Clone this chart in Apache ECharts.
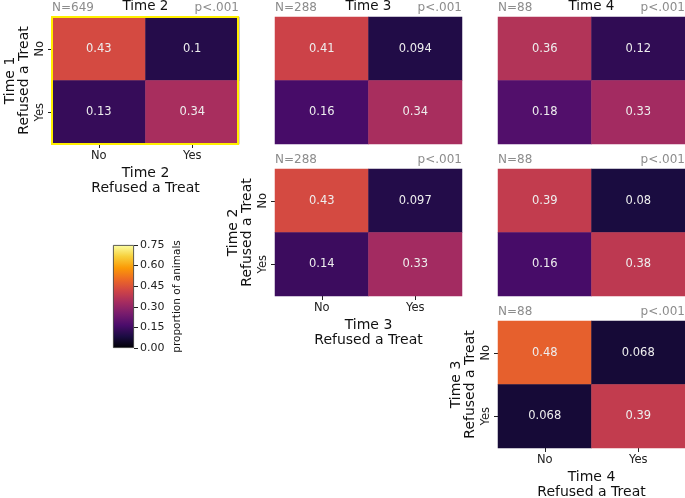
<!DOCTYPE html>
<html>
<head>
<meta charset="utf-8">
<title>Refused a Treat</title>
<script src="https://cdn.jsdelivr.net/npm/echarts@6/dist/echarts.min.js"></script>
<style>
  html, body { margin: 0; padding: 0; background: #fff; }
  #chart { width: 685px; height: 498px; }
</style>
</head>
<body>
<div id="chart"></div>
<script>
// answers on both axes
const answers = ['No', 'Yes']

// proportions, rows = earlier time, columns = later time
const t1t2 = [[0.43, 0.1], [0.13, 0.34]]
const t1t3 = [[0.41, 0.094], [0.16, 0.34]]
const t1t4 = [[0.36, 0.12], [0.18, 0.33]]
const t2t3 = [[0.43, 0.097], [0.14, 0.33]]
const t2t4 = [[0.39, 0.08], [0.16, 0.38]]
const t3t4 = [[0.48, 0.068], [0.068, 0.39]]

const sampleSizes = [649, 288, 88, 288, 88, 88]
const pValues = ['p<.001', 'p<.001', 'p<.001', 'p<.001', 'p<.001', 'p<.001']
const colTitles = ['Time 2', 'Time 3', 'Time 4']
const colorTicks = [0, 0.15, 0.3, 0.45, 0.6, 0.75]

// inferno colormap
const inferno = ['#000004', '#1b0c42', '#4b0c6b', '#781c6d', '#a52c60', '#cf4446', '#ed6925', '#fb9a06', '#f7d03c', '#fcffa4']

const font = 'DejaVu Sans'
const W = 187
const H = 127

const panels = [
  { data: t1t2, left: 52, top: 17, rowName: 'Time 1', colName: 'Time 2', axes: true, title: colTitles[0] },
  { data: t1t3, left: 275, top: 17, title: colTitles[1] },
  { data: t1t4, left: 498, top: 17, title: colTitles[2] },
  { data: t2t3, left: 275, top: 169, rowName: 'Time 2', colName: 'Time 3', axes: true },
  { data: t2t4, left: 498, top: 169 },
  { data: t3t4, left: 498, top: 321, rowName: 'Time 3', colName: 'Time 4', axes: true }
]

const grids = []
const xAxes = []
const yAxes = []
const series = []
const titles = []

panels.forEach((p, i) => {
  grids.push({ left: p.left, top: p.top, width: W, height: H, outerBoundsMode: 'none' })
  xAxes.push({
    type: 'category',
    gridIndex: i,
    data: answers,
    position: 'bottom',
    axisLine: { show: false },
    axisTick: { show: !!p.axes, alignWithLabel: true, length: 4, lineStyle: { color: '#222' } },
    axisLabel: { show: !!p.axes, color: '#222', fontSize: 11.5, fontFamily: font, margin: 6 },
    splitLine: { show: false },
    name: p.axes ? p.colName + '\nRefused a Treat' : '',
    nameLocation: 'middle',
    nameGap: 22,
    nameTextStyle: { color: '#111', fontSize: 14, fontFamily: font, lineHeight: 15 }
  })
  yAxes.push({
    type: 'category',
    gridIndex: i,
    data: answers,
    inverse: true,
    axisLine: { show: false },
    axisTick: { show: !!p.axes, alignWithLabel: true, length: 4, lineStyle: { color: '#222' } },
    axisLabel: { show: !!p.axes, color: '#222', fontSize: 11.5, fontFamily: font, rotate: 90, margin: 6 },
    splitLine: { show: false },
    name: p.axes ? p.rowName + '\nRefused a Treat' : '',
    nameLocation: 'middle',
    nameRotate: 90,
    nameGap: 21,
    nameTextStyle: { color: '#111', fontSize: 14, fontFamily: font, lineHeight: 14 }
  })
  const cells = []
  p.data.forEach((row, r) => row.forEach((v, c) => cells.push([c, r, v])))
  series.push({
    type: 'heatmap',
    xAxisIndex: i,
    yAxisIndex: i,
    data: cells,
    label: {
      show: true,
      color: '#eeeeee',
      fontSize: 11.5,
      fontFamily: font,
      formatter: d => String(d.value[2])
    },
    emphasis: { disabled: true },
    itemStyle: { borderWidth: 0 }
  })
  titles.push({
    text: 'N=' + sampleSizes[i],
    left: p.left,
    top: p.top - 15,
    padding: 0,
    textStyle: { color: '#8c8c8c', fontSize: 12, fontWeight: 'normal', fontFamily: font }
  })
  titles.push({
    text: pValues[i],
    left: p.left + W,
    textAlign: 'right',
    top: p.top - 15,
    padding: 0,
    textStyle: { color: '#8c8c8c', fontSize: 12, fontWeight: 'normal', fontFamily: font }
  })
  if (p.title) {
    titles.push({
      text: p.title,
      left: p.left + W / 2,
      textAlign: 'center',
      top: -1,
      padding: 0,
      textStyle: { color: '#111', fontSize: 13.5, fontWeight: 'normal', fontFamily: font }
    })
  }
})

// colorbar
const cbIndex = panels.length
grids.push({ left: 113, top: 245, width: 21, height: 103, outerBoundsMode: 'none' })
xAxes.push({
  type: 'category',
  gridIndex: cbIndex,
  data: ['cb'],
  show: false
})
yAxes.push({
  type: 'value',
  gridIndex: cbIndex,
  position: 'right',
  min: colorTicks[0],
  max: colorTicks[colorTicks.length - 1],
  interval: 0.15,
  axisLine: { show: false },
  axisTick: { show: true, length: 4, lineStyle: { color: '#222' } },
  axisLabel: { color: '#222', fontSize: 11, fontFamily: font, margin: 6, formatter: v => v.toFixed(2) },
  splitLine: { show: false },
  name: 'proportion of animals',
  nameLocation: 'middle',
  nameRotate: 90,
  nameGap: 38,
  nameTextStyle: { color: '#111', fontSize: 10.5, fontFamily: font }
})
series.push({
  type: 'bar',
  xAxisIndex: cbIndex,
  yAxisIndex: cbIndex,
  data: [colorTicks[colorTicks.length - 1]],
  barWidth: '100%',
  silent: true,
  itemStyle: {
    borderColor: '#333',
    borderWidth: 0.8,
    color: new echarts.graphic.LinearGradient(0, 1, 0, 0,
      inferno.map((c, k) => ({ offset: k / (inferno.length - 1), color: c })))
  }
})

const chart = echarts.init(document.getElementById('chart'), null, { renderer: 'canvas' })
chart.setOption({
  animation: false,
  backgroundColor: '#fff',
  textStyle: { fontFamily: font },
  title: titles,
  grid: grids,
  xAxis: xAxes,
  yAxis: yAxes,
  visualMap: {
    type: 'continuous',
    show: false,
    min: 0,
    max: 0.75,
    seriesIndex: panels.map((p, i) => i),
    inRange: { color: inferno }
  },
  graphic: [{
    type: 'rect',
    shape: { x: panels[0].left, y: panels[0].top, width: W - 1, height: H },
    style: { fill: 'none', stroke: '#ffef00', lineWidth: 2 },
    z: 100
  }],
  series: series
})
</script>
</body>
</html>
